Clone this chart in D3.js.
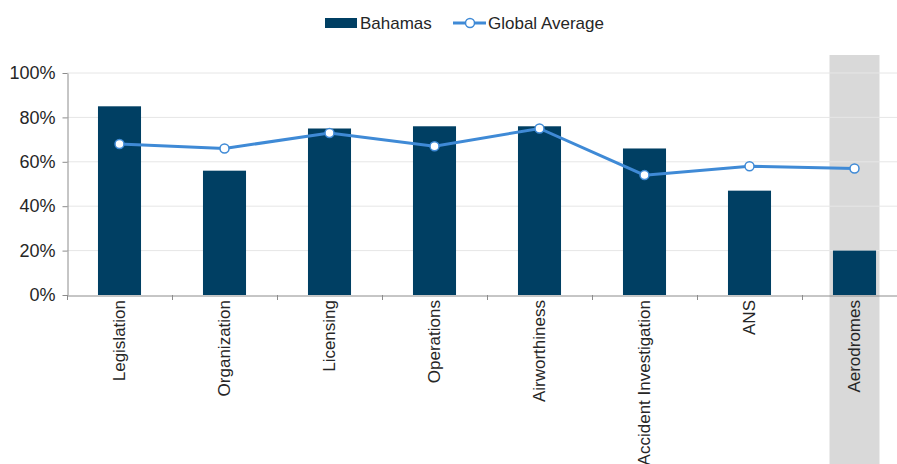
<!DOCTYPE html>
<html>
<head>
<meta charset="utf-8">
<script src="https://cdn.jsdelivr.net/npm/d3@7"></script>
<style>
  body { margin: 0; background: #fff; }
  svg { display: block; font-family: "Liberation Sans", Arial, sans-serif; }
</style>
</head>
<body>
<script>
const categories = ["Legislation", "Organization", "Licensing", "Operations", "Airworthiness", "Accident Investigation", "ANS", "Aerodromes"];
const bahamas = [85, 56, 75, 76, 76, 66, 47, 20];
const globalAvg = [68, 66, 73, 67, 75, 54, 58, 57];
const yTicks = [0, 20, 40, 60, 80, 100];
const highlighted = "Aerodromes";

const width = 897, height = 464;
const barColor = "#003f63";
const lineColor = "#3f8ad6";
const textColor = "#262626";

const svg = d3.select("body").append("svg")
  .attr("width", width)
  .attr("height", height);

let x = d3.scaleBand()
  .domain(categories)
  .range([67, 907])
  .paddingInner(0.59)
  .paddingOuter(0.295);

let xTick = d3.scaleBand().domain(categories).range([67, 907]);

let y = d3.scaleLinear()
  .domain([0, 100])
  .range([295, 73]);

// highlight column
svg.append("rect")
  .attr("x", xTick(highlighted) + xTick.bandwidth() / 2 - 25)
  .attr("y", 55)
  .attr("width", 50)
  .attr("height", height - 55)
  .attr("fill", "#d9d9d9");

// grid
svg.append("g")
  .selectAll("line")
  .data(yTicks.filter(d => d > 0))
  .enter()
  .append("line")
    .attr("x1", 67)
    .attr("x2", width)
    .attr("y1", d => y(d))
    .attr("y2", d => y(d))
    .attr("stroke", "#e6e6e6")
    .attr("stroke-width", 1);

// bars
svg.append("g")
  .selectAll("rect")
  .data(bahamas)
  .enter()
  .append("rect")
    .attr("x", (d, i) => x(categories[i]))
    .attr("y", d => y(d))
    .attr("width", x.bandwidth())
    .attr("height", d => y(0) - y(d))
    .attr("fill", barColor);

// y axis
let yAxis = d3.axisLeft(y)
  .tickValues(yTicks)
  .tickSize(5)
  .tickSizeOuter(0)
  .tickPadding(7)
  .tickFormat(d => d + "%");

let yG = svg.append("g")
  .attr("transform", "translate(67.5,0)")
  .call(yAxis);
yG.select(".domain").attr("stroke", "#8c8c8c");
yG.selectAll(".tick line").attr("stroke", "#8c8c8c");
yG.selectAll("text")
  .attr("fill", textColor)
  .style("font-size", "18px");

// x axis
let xAxis = d3.axisBottom(xTick)
  .tickSize(0)
  .tickSizeOuter(0)
  .tickFormat("");

let xG = svg.append("g")
  .attr("transform", "translate(0,295.5)")
  .call(xAxis);
xG.select(".domain").attr("stroke", "#8c8c8c");

// tick marks at band boundaries
svg.append("g")
  .selectAll("line")
  .data(categories)
  .enter()
  .append("line")
    .attr("x1", d => Math.round(xTick(d)) + 0.5)
    .attr("x2", d => Math.round(xTick(d)) + 0.5)
    .attr("y1", 295)
    .attr("y2", 300)
    .attr("stroke", "#8c8c8c");

// category labels
svg.append("g")
  .selectAll("text")
  .data(categories)
  .enter()
  .append("text")
    .attr("transform", d => `translate(${xTick(d) + xTick.bandwidth() / 2},300) rotate(-90)`)
    .attr("text-anchor", "end")
    .attr("dy", "0.35em")
    .attr("fill", textColor)
    .style("font-size", "17px")
    .text(d => d);

// line
let line = d3.line()
  .x((d, i) => x(categories[i]) + x.bandwidth() / 2)
  .y(d => y(d));

svg.append("path")
  .datum(globalAvg)
  .attr("d", line)
  .attr("fill", "none")
  .attr("stroke", lineColor)
  .attr("stroke-width", 3);

svg.append("g")
  .selectAll("circle")
  .data(globalAvg)
  .enter()
  .append("circle")
    .attr("cx", (d, i) => x(categories[i]) + x.bandwidth() / 2)
    .attr("cy", d => y(d))
    .attr("r", 4.5)
    .attr("fill", "#fff")
    .attr("stroke", lineColor)
    .attr("stroke-width", 1.5);

// legend
let legend = svg.append("g").attr("id", "legend");

legend.append("rect")
  .attr("x", 325)
  .attr("y", 18)
  .attr("width", 32)
  .attr("height", 10)
  .attr("fill", barColor);

legend.append("text")
  .attr("x", 360)
  .attr("y", 23)
  .attr("dy", "0.35em")
  .attr("fill", textColor)
  .style("font-size", "17px")
  .text("Bahamas");

legend.append("line")
  .attr("x1", 453)
  .attr("x2", 486)
  .attr("y1", 23)
  .attr("y2", 23)
  .attr("stroke", lineColor)
  .attr("stroke-width", 3);

legend.append("circle")
  .attr("cx", 470)
  .attr("cy", 23)
  .attr("r", 4.5)
  .attr("fill", "#fff")
  .attr("stroke", lineColor)
  .attr("stroke-width", 1.5);

legend.append("text")
  .attr("x", 488)
  .attr("y", 23)
  .attr("dy", "0.35em")
  .attr("fill", textColor)
  .style("font-size", "17px")
  .text("Global Average");
</script>
</body>
</html>
